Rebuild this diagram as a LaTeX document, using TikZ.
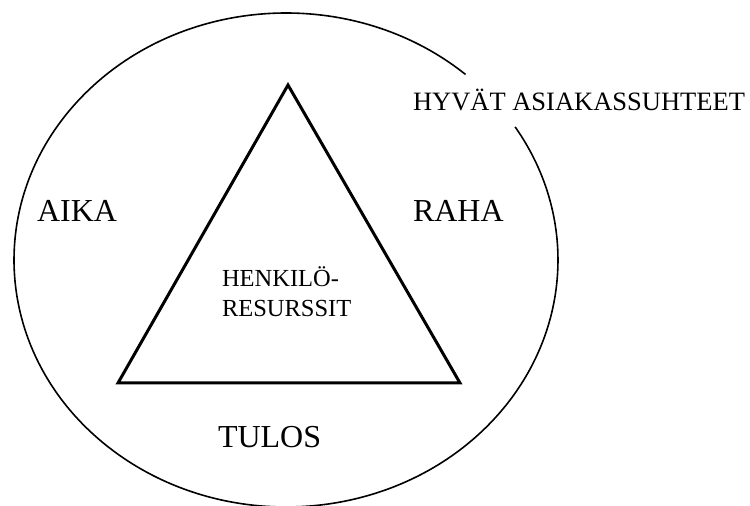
\documentclass[tikz,border=0pt]{standalone}
\usepackage{fontspec}
\setmainfont{Liberation Serif}
\begin{document}
\begin{tikzpicture}[x=1pt,y=1pt,
  lbl/.style={anchor=base west,inner sep=0pt,outer sep=0pt},
  big/.style={lbl,font=\fontsize{32}{36}\selectfont},
  mid/.style={lbl,font=\fontsize{26.5}{30}\selectfont},
  small/.style={lbl,font=\fontsize{24.5}{28}\selectfont},
  ring/.style={line width=1.6pt},
  tri/.style={line width=3pt,line join=miter}]
\useasboundingbox (0,0) rectangle (750,506);
\coordinate (c) at (286,246);
\draw[ring] (c) ++(48.7:272 and 247) arc[start angle=48.7,end angle=392.6,x radius=272,y radius=247];
\coordinate (apex) at (288,421);
\coordinate (bl) at (118,123);
\coordinate (br) at (460,123);
\draw[tri] (apex) -- (br) -- (bl) -- cycle;
\node[mid] (hyvat) at (413,395) {HYVÄT ASIAKASSUHTEET};
\node[big] (aika) at (37,284) {AIKA};
\node[big] (raha) at (413,284) {RAHA};
\node[small] (henk) at (222,219) {HENKILÖ-};
\node[small] (res) at (222,189) {RESURSSIT};
\node[big] (tulos) at (218,58) {TULOS};
\end{tikzpicture}
\end{document}
